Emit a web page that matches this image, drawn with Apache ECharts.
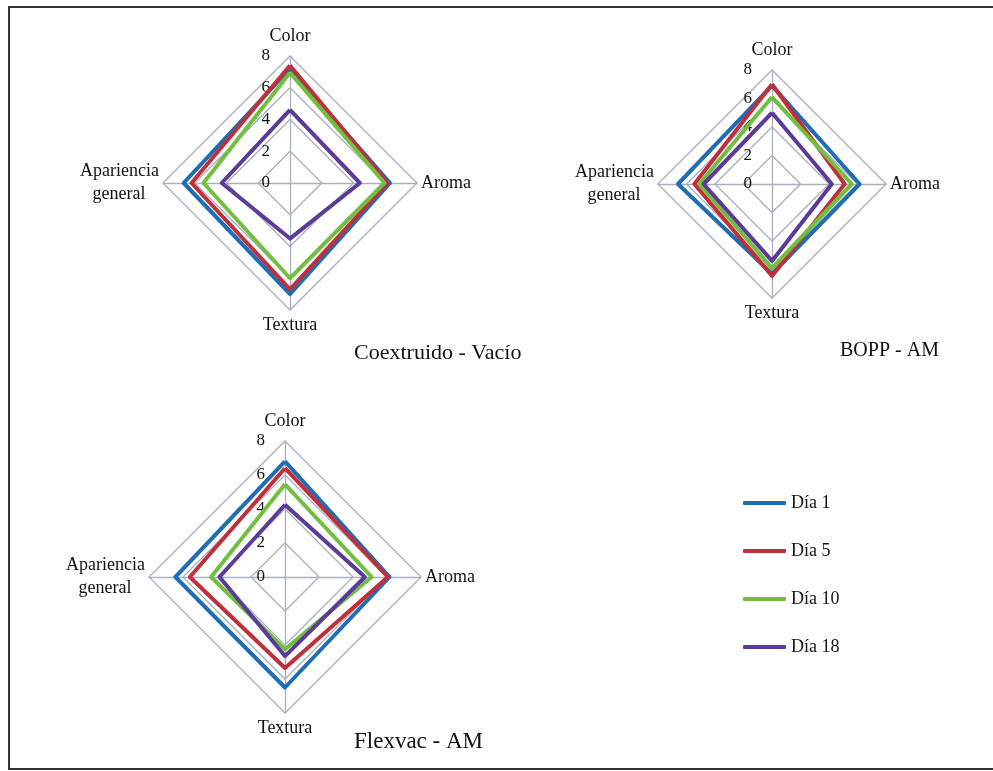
<!DOCTYPE html>
<html>
<head>
<meta charset="utf-8">
<script src="https://cdn.jsdelivr.net/npm/echarts@6/dist/echarts.min.js"></script>
<style>
  html, body { margin: 0; padding: 0; background: #fff; }
  #chart { width: 993px; height: 771px; }
</style>
</head>
<body>
<div id="chart"></div>
<script>
// indicator order as ECharts lays them out (counter-clockwise from top)
const attributes = ['Color', 'Apariencia general', 'Textura', 'Aroma'];
const days = ['Día 1', 'Día 5', 'Día 10', 'Día 18'];
const dayColors = ['#1f6db5', '#c0303b', '#72bf40', '#5a3c98'];
const ticks = [0, 2, 4, 6, 8];

// values per day: [Color, Apariencia general, Textura, Aroma]
const coextruido = [
  [7.2, 6.7, 7.0, 6.3],
  [7.4, 6.2, 6.7, 6.15],
  [6.95, 5.45, 6.0, 5.95],
  [4.6, 4.3, 3.5, 4.4]
];
const bopp = [
  [6.9, 6.6, 6.3, 6.15],
  [7.0, 5.45, 6.45, 5.1],
  [6.1, 5.1, 5.9, 5.6],
  [5.0, 4.8, 5.4, 4.2]
];
const flexvac = [
  [6.8, 6.45, 6.5, 6.15],
  [6.4, 5.6, 5.35, 6.05],
  [5.45, 4.35, 4.25, 5.1],
  [4.25, 3.85, 4.65, 4.7]
];

const panelTitles = ['Coextruido - Vacío', 'BOPP - AM', 'Flexvac - AM'];
const panels = [coextruido, bopp, flexvac];

const serif = 'Liberation Serif';
const gridColor = '#a7b0c0';

const chart = echarts.init(document.getElementById('chart'));

function makeRadar(center, radius) {
  return {
    center: center,
    radius: radius,
    startAngle: 90,
    shape: 'polygon',
    splitNumber: ticks.length - 1,
    nameGap: 4,
    axisName: {
      color: '#111', fontFamily: serif, fontSize: 18, lineHeight: 23,
      // "general" sits centred under "Apariencia" in the original
      formatter: n => n === 'Apariencia general' ? 'Apariencia\ngeneral   ' : n
    },
    indicator: attributes.map((a, i) => ({
      name: a,
      min: ticks[0],
      max: ticks[ticks.length - 1],
      axisLabel: i === 0 ? { show: true } : { show: false }
    })),
    axisLabel: { color: '#111', fontFamily: serif, fontSize: 17, margin: 20 },
    axisLine: { lineStyle: { color: gridColor, width: 1.3 } },
    splitLine: { lineStyle: { color: gridColor, width: 1.3 } },
    splitArea: { show: false }
  };
}

const option = {
  animation: false,
  color: dayColors,
  graphic: [{
    type: 'rect',
    shape: { x: 9, y: 7, width: 1000, height: 762 },
    style: { fill: 'none', stroke: '#333', lineWidth: 2 }
  }],
  title: [
    { text: panelTitles[0], left: 349, top: 337, size: 22 },
    { text: panelTitles[1], left: 835, top: 336, size: 20 },
    { text: panelTitles[2], left: 349, top: 725, size: 23 }
  ].map(t => ({
    text: t.text, left: t.left, top: t.top,
    textStyle: { fontFamily: serif, fontSize: t.size, fontWeight: 'normal', color: '#111' }
  })),
  legend: {
    orient: 'vertical',
    left: 738,
    top: 489,
    itemGap: 30,
    itemWidth: 43,
    itemHeight: 4,
    icon: 'roundRect',
    data: days,
    textStyle: { fontFamily: serif, fontSize: 18, color: '#111' }
  },
  radar: [
    makeRadar([290, 183], 127),
    makeRadar([772, 184], 114),
    makeRadar([285, 577], 136)
  ],
  series: panels.map((vals, p) => ({
    type: 'radar',
    radarIndex: p,
    symbol: 'none',
    data: days.map((d, i) => ({
      name: d,
      value: vals[i],
      itemStyle: { color: dayColors[i] },
      lineStyle: { color: dayColors[i], width: 4 }
    }))
  }))
};

chart.setOption(option);
</script>
</body>
</html>
